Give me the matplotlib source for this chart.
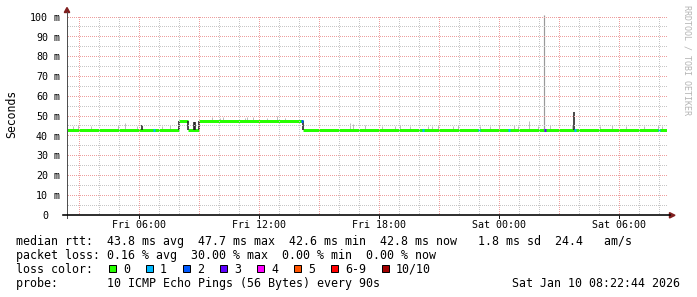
import matplotlib
matplotlib.use("Agg")
import numpy as np
import matplotlib.pyplot as plt
from matplotlib.patches import Polygon, Rectangle
from matplotlib.transforms import ScaledTranslation, blended_transform_factory

W, H, DPI = 697, 297, 100
MONO = "DejaVu Sans Mono"

# ---------------- data ----------------
# time in hours since Fri 00:00
t_start, t_end = 2.379, 32.379
xtick_hours = [6, 12, 18, 24, 30]
xtick_labels = ["Fri 06:00", "Fri 12:00", "Fri 18:00", "Sat 00:00", "Sat 06:00"]
ytick_values = [0, 10, 20, 30, 40, 50, 60, 70, 80, 90, 100]
ytick_numbers = ["0", "10", "20", "30", "40", "50", "60", "70", "80", "90", "100"]
ytick_units = ["", "m", "m", "m", "m", "m", "m", "m", "m", "m", "m"]

# median rtt (ms), step segments
median_t = [2.379, 8.0, 8.45, 9.0, 14.2, 32.379]
median_ms = [42.9, 47.5, 42.8, 47.3, 42.8]

# dark smoke at transitions
dark_t = [6.15, 8.0, 8.45, 8.75, 8.8, 9.0, 14.2, 27.75]
dark_lo = [42.9, 42.9, 42.8, 42.8, 42.8, 42.8, 42.8, 42.8]
dark_hi = [45.5, 47.5, 47.5, 47.0, 47.0, 47.3, 47.3, 52.0]

# big outlier spike
spike_t = [26.25]
spike_hi = [101.0]

# light smoke ticks above the median
smoke_t = [2.7, 2.95, 3.6, 4.95, 5.3, 5.9, 7.15, 7.55,
           9.65, 10.05, 10.2, 11.3, 11.4, 11.7, 12.4, 12.9, 13.3,
           16.55, 16.7, 17.3, 18.15, 18.8, 19.05, 19.55, 20.45,
           20.65, 20.95, 21.7, 21.95, 23.05, 23.55, 24.0, 24.75, 24.95, 25.5, 25.95,
           26.55, 27.65, 29.05, 29.65, 30.35, 31.25, 31.95, 32.15]
smoke_top = [45.0, 45.5, 45.0, 45.5, 46.5, 45.0, 45.0, 45.5,
             49.5, 49.0, 49.5, 49.0, 49.5, 49.5, 49.0, 50.0, 49.0,
             46.5, 46.0, 45.5, 45.0, 45.0, 45.5, 45.0, 45.0,
             45.0, 45.5, 45.0, 45.5, 45.0, 45.0, 45.5, 45.5, 45.0, 47.5, 45.0,
             45.5, 45.5, 45.0, 45.5, 45.0, 45.0, 45.5, 45.0]

# packet loss events (hour, lost pings out of 10)
loss_t = [6.7, 14.1, 20.13, 22.95, 24.45, 26.25, 27.75, 31.95]
loss_n = [1, 2, 1, 1, 1, 3, 1, 1]

loss_legend_labels = ["0", "1", "2", "3", "4", "5", "6-9", "10/10"]
loss_legend_colors = ["#26ff00", "#00b8ff", "#0059ff", "#5e00ff", "#ff00ff",
                      "#ff5500", "#ff0000", "#a10000"]
loss_color_by_n = {0: "#26ff00", 1: "#00b8ff", 2: "#0059ff", 3: "#5e00ff",
                   4: "#ff00ff", 5: "#ff5500"}

legend_line1 = "median rtt:  43.8 ms avg  47.7 ms max  42.6 ms min  42.8 ms now   1.8 ms sd  24.4   am/s"
legend_line2 = "packet loss: 0.16 % avg  30.00 % max  0.00 % min  0.00 % now"
legend_line3 = "loss color:"
legend_line4 = "probe:       10 ICMP Echo Pings (56 Bytes) every 90s"
date_text = "Sat Jan 10 08:22:44 2026"
watermark = "RRDTOOL / TOBI OETIKER"

# ---------------- figure ----------------
fig = plt.figure(figsize=(W / DPI, H / DPI), dpi=DPI, facecolor="white")
ax = fig.add_axes([67 / W, (H - 215) / H, 600 / W, 198 / H])
ax.set_xlim(t_start, t_end)
ax.set_ylim(0, 100)
ax.patch.set_visible(False)
for s in ax.spines.values():
    s.set_visible(False)
ax.set_xticks([])
ax.set_yticks([])

px = 0.72  # 1 pixel in points

# ---- dotted grid as a pixel image (1 on / 1 off) ----
grid_rgba = np.array([0.78, 0.78, 0.78, 1.0])
mgrid_rgba = np.array([0.93, 0.62, 0.62, 1.0])
img = np.zeros((H, W, 4))
x0_disp, y0_disp = ax.transData.transform((t_start, 0))
x1_disp, y1_disp = ax.transData.transform((t_end, 100))
c0, c1 = int(round(x0_disp)), int(round(x1_disp))
r_top, r_bot = int(round(H - y1_disp)), int(round(H - y0_disp))
hours_all = list(range(3, 33))
for hh in hours_all:
    xd = ax.transData.transform((hh, 0))[0]
    c = int(np.floor(xd))
    rows = np.arange(r_top, r_bot, 2)
    img[rows, c] = mgrid_rgba if hh % 3 == 0 else grid_rgba
for v in range(5, 101, 5):
    yd = ax.transData.transform((t_start, v))[1]
    r = int(np.floor(H - yd))
    cols = np.arange(c0 + 1, c1, 2)
    img[r, cols] = mgrid_rgba if v % 10 == 0 else grid_rgba
fig.figimage(img, xo=0, yo=0, origin="upper", zorder=0)


def med_lookup(t):
    for i in range(len(median_ms)):
        if median_t[i] <= t < median_t[i + 1]:
            return median_ms[i]
    return median_ms[-1]


# light smoke
ax.vlines(smoke_t, [med_lookup(t) for t in smoke_t], smoke_top,
          color="#bdbdbd", lw=1.0 * px, zorder=2)

# median line (horizontal segments)
ax.hlines(median_ms, median_t[:-1], median_t[1:], color="#26ff00",
          lw=3 * px, zorder=3, capstyle="butt")

# dark smoke at transitions
ax.vlines(dark_t, dark_lo, dark_hi, color="#202020", lw=1.6 * px, zorder=4)
ax.vlines(spike_t, [med_lookup(t) for t in spike_t], spike_hi,
          color="#999999", lw=1.2 * px, zorder=4, clip_on=False)

# loss markers
for t, n in zip(loss_t, loss_n):
    m = med_lookup(t)
    ax.hlines(m, t, t + 0.08, color=loss_color_by_n[n], lw=3 * px, zorder=5,
              capstyle="butt")


# axes lines & arrows (pixel coords)
def fx(x):
    return x / W


def fy(y):
    return 1 - y / H


axis_col = (0.12, 0.12, 0.12)
arrow_col = (0.5, 0.12, 0.12)
fig.add_artist(plt.Line2D([fx(67), fx(67)], [fy(218), fy(12)], color="#505050", lw=px))
fig.add_artist(plt.Line2D([fx(63), fx(670)], [fy(215.3), fy(215.3)], color="black",
                          lw=1.6 * px))
fig.add_artist(Polygon([[fx(67), fy(7.5)], [fx(64.3), fy(12.5)], [fx(69.7), fy(12.5)]],
                       closed=True, color=arrow_col, transform=fig.transFigure))
fig.add_artist(Polygon([[fx(675), fy(215.3)], [fx(669.5), fy(212.6)], [fx(669.5), fy(218)]],
                       closed=True, color=arrow_col, transform=fig.transFigure))

# small ticks at labelled hours
xb = blended_transform_factory(ax.transData, fig.transFigure)
for hh in xtick_hours:
    fig.add_artist(plt.Line2D([hh, hh], [fy(215), fy(218)], color=axis_col,
                              lw=px, transform=xb))
yb = blended_transform_factory(fig.transFigure, ax.transData)

# tick labels
for hh, lab in zip(xtick_hours, xtick_labels):
    fig.text(hh, fy(227.5), lab, transform=xb, fontsize=7.2,
             family=MONO, ha="center", va="baseline", color="black")
off = ScaledTranslation(0, -3.8 / DPI, fig.dpi_scale_trans)
for v, num, unit in zip(ytick_values, ytick_numbers, ytick_units):
    fig.text(fx(48), v, num, transform=yb + off, fontsize=7.2, family=MONO,
             ha="right", va="baseline", color="black")
    if unit:
        fig.text(fx(54), v, unit, transform=yb + off, fontsize=7.2, family=MONO,
                 ha="left", va="baseline", color="black")

# y label
fig.text(fx(11.5), fy(114), "Seconds", rotation=90, fontsize=8.3, family=MONO,
         ha="center", va="center", color="black")

# watermark
fig.text(fx(687.5), fy(60), watermark, rotation=270, fontsize=6.0, family=MONO,
         ha="center", va="center", color="#b4b4b4")

# legend
fs = 8.37
fig.text(fx(16), fy(245), legend_line1, fontsize=fs, family=MONO, va="baseline")
fig.text(fx(16), fy(259), legend_line2, fontsize=fs, family=MONO, va="baseline")
fig.text(fx(16), fy(273), legend_line3, fontsize=fs, family=MONO, va="baseline")
fig.text(fx(16), fy(287), legend_line4, fontsize=fs, family=MONO, va="baseline")
fig.text(fx(680.5), fy(287), date_text, fontsize=fs, family=MONO, va="baseline",
         ha="right")

x_cursor = 109
for lab, col in zip(loss_legend_labels, loss_legend_colors):
    fig.add_artist(Rectangle((fx(x_cursor), fy(272)), 7 / W, 7 / H,
                             transform=fig.transFigure, facecolor=col,
                             edgecolor="black", lw=px))
    fig.text(fx(x_cursor + 14), fy(273), lab, fontsize=fs, family=MONO,
             va="baseline")
    x_cursor = x_cursor + 14 + 7 * len(lab) + 16

fig.savefig("out.png", dpi=DPI, facecolor="white")
